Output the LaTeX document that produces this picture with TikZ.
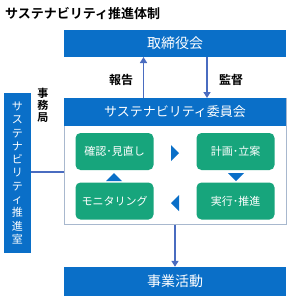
\documentclass[tikz,border=0pt]{standalone}
\usepackage{fontspec}
\setmainfont{Noto Sans CJK JP}[BoldFont={Noto Sans CJK JP Bold}]
\usetikzlibrary{arrows.meta}
\definecolor{mainblue}{HTML}{0A6FC8}
\definecolor{boxgreen}{HTML}{17A57C}
\definecolor{arrowblue}{HTML}{4A6CC0}
\definecolor{bordergray}{HTML}{A8B8CE}
\tikzset{
  bluebox/.style={draw=none, fill=mainblue, text=white, inner sep=0pt},
  greenbox/.style={draw=none, fill=boxgreen, text=white, rounded corners=5pt, minimum width=78pt, minimum height=37pt, font=\fontsize{11}{12}\selectfont, inner sep=0pt},
  flowarrow/.style={draw=arrowblue, line width=1.6pt, -{Triangle[width=7pt,length=6pt]}},
  tri/.style={fill=mainblue, draw=none},
  lbl/.style={font=\fontsize{11}{12}\selectfont\bfseries, text=black, inner sep=0pt}
}
\begin{document}
\begin{tikzpicture}[x=1pt,y=-1pt]
\useasboundingbox (0,0) rectangle (291,300);
% title
\node[anchor=west, font=\fontsize{13}{14}\selectfont\bfseries, inner sep=0pt] (title) at (5,14) {サステナビリティ推進体制};
% board
\node[bluebox, minimum width=222pt, minimum height=27pt, font=\fontsize{14}{15}\selectfont] (board) at (175,43.5) {取締役会};
% committee
\node[draw=bordergray, line width=1pt, fill=white, minimum width=222pt, minimum height=126pt, inner sep=0pt] (comm) at (175,161) {};
\node[bluebox, minimum width=222pt, minimum height=28pt, font=\fontsize{13}{14}\selectfont] (commhead) at (175,112) {サステナビリティ委員会};
% green boxes
\node[greenbox] (check) at (114.5,151.5) {確認･見直し};
\node[greenbox] (plan) at (235.5,151.5) {計画･立案};
\node[greenbox] (monitor) at (114.5,201) {モニタリング};
\node[greenbox] (exec) at (235.5,201) {実行･推進};
% triangles
\fill[tri] (171,145) -- (171,161) -- (179,153) -- cycle;
\fill[tri] (228,173) -- (244,173) -- (236,181) -- cycle;
\fill[tri] (179,195) -- (179,211) -- (171,203) -- cycle;
\fill[tri] (106,181) -- (122,181) -- (114,173) -- cycle;
% business
\node[bluebox, minimum width=222pt, minimum height=29pt, font=\fontsize{14}{15}\selectfont] (biz) at (175,281.5) {事業活動};
% left office
\node[bluebox, minimum width=27pt, minimum height=160pt, align=center, font=\fontsize{11}{13.3}\selectfont] (office) at (17.5,173) {サ\\ス\\テ\\ナ\\ビ\\リ\\テ\\ィ\\推\\進\\室};
\node[lbl, align=center, font=\fontsize{11}{12}\selectfont\bfseries] (jimu) at (43,105) {事\\務\\局};
% arrows
\coordinate (upS) at (143.5,98);
\coordinate (upE) at (143.5,57);
\draw[flowarrow] (upS) -- (upE);
\coordinate (dnS) at (207,57);
\coordinate (dnE) at (207,98);
\draw[flowarrow] (dnS) -- (dnE);
\node[lbl, font=\fontsize{12}{13}\selectfont\bfseries] (report) at (121,80) {報告};
\node[lbl, font=\fontsize{12}{13}\selectfont\bfseries] (super) at (231,80) {監督};
\draw[flowarrow] (comm.south -| biz.north) -- (biz.north);
\draw[draw=arrowblue, line width=1.2pt] (office.east |- 0,172) -- (comm.west |- 0,172);
\end{tikzpicture}
\end{document}
